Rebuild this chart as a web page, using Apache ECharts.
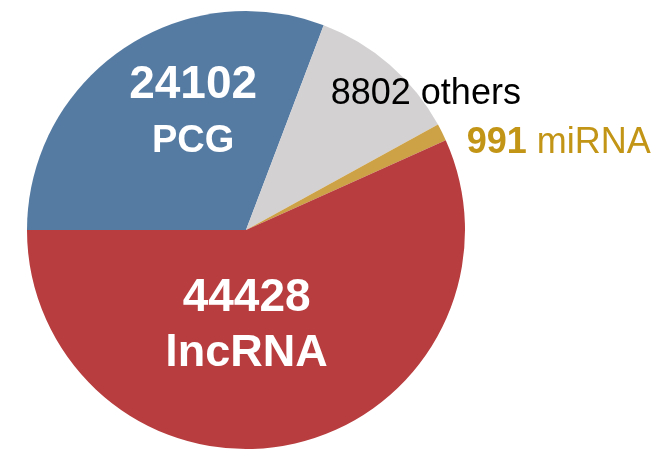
<!DOCTYPE html>
<html>
<head>
<meta charset="utf-8">
<script src="https://cdn.jsdelivr.net/npm/echarts@6/dist/echarts.min.js"></script>
<style>
    html, body {margin: 0; padding: 0; background: #fff;}
    #chart {width: 669px; height: 451px;}
</style>
</head>
<body>
<div id="chart"></div>
<script>
    // slice order clockwise from 9 o'clock
    let names = ['PCG', 'others', 'miRNA', 'lncRNA'];
    let values = [24102, 8802, 991, 44428];
    let colors = ['#557BA3', '#D3D1D2', '#CDA146', '#B83D3E'];

    // label look per slice
    let labelCfg = [
        {offset: [11, -24], formatter: '{big|{c}}\n{name|{b}}'},
        {offset: [106, -51], formatter: '{txt|{c} {b}}'},
        {offset: [212, -37], formatter: '{gnum|{c}}{gtxt| {b}}'},
        {offset: [-23, -14], formatter: '{big|{c}}\n{name2|{b}}'}
    ];

    let font = '"Liberation Sans", Arial, sans-serif';
    let rich = {
        big: {fontSize: 46, fontWeight: 'bold', color: '#fff', fontFamily: font, lineHeight: 56},
        name: {fontSize: 38, fontWeight: 'bold', color: '#fff', fontFamily: font, lineHeight: 56},
        name2: {fontSize: 45, fontWeight: 'bold', color: '#fff', fontFamily: font, lineHeight: 56},
        txt: {fontSize: 36, color: '#000', fontFamily: font},
        gnum: {fontSize: 36, fontWeight: 'bold', color: '#C39516', fontFamily: font},
        gtxt: {fontSize: 36, color: '#C39516', fontFamily: font}
    };

    let data = names.map(function (n, i) {
        return {
            name: n,
            value: values[i],
            itemStyle: {color: colors[i]},
            label: {
                show: true, position: 'inside', offset: labelCfg[i].offset,
                formatter: labelCfg[i].formatter, rich: rich
            }
        };
    });

    let chart = echarts.init(document.getElementById('chart'));
    chart.setOption({
        animation: false,
        series: [{
            type: 'pie',
            center: [246, 230],
            radius: [0, 219],
            startAngle: 180,
            clockwise: true,
            avoidLabelOverlap: false,
            labelLine: {show: false},
            emphasis: {disabled: true},
            itemStyle: {borderWidth: 0},
            data: data
        }]
    });
</script>
</body>
</html>
